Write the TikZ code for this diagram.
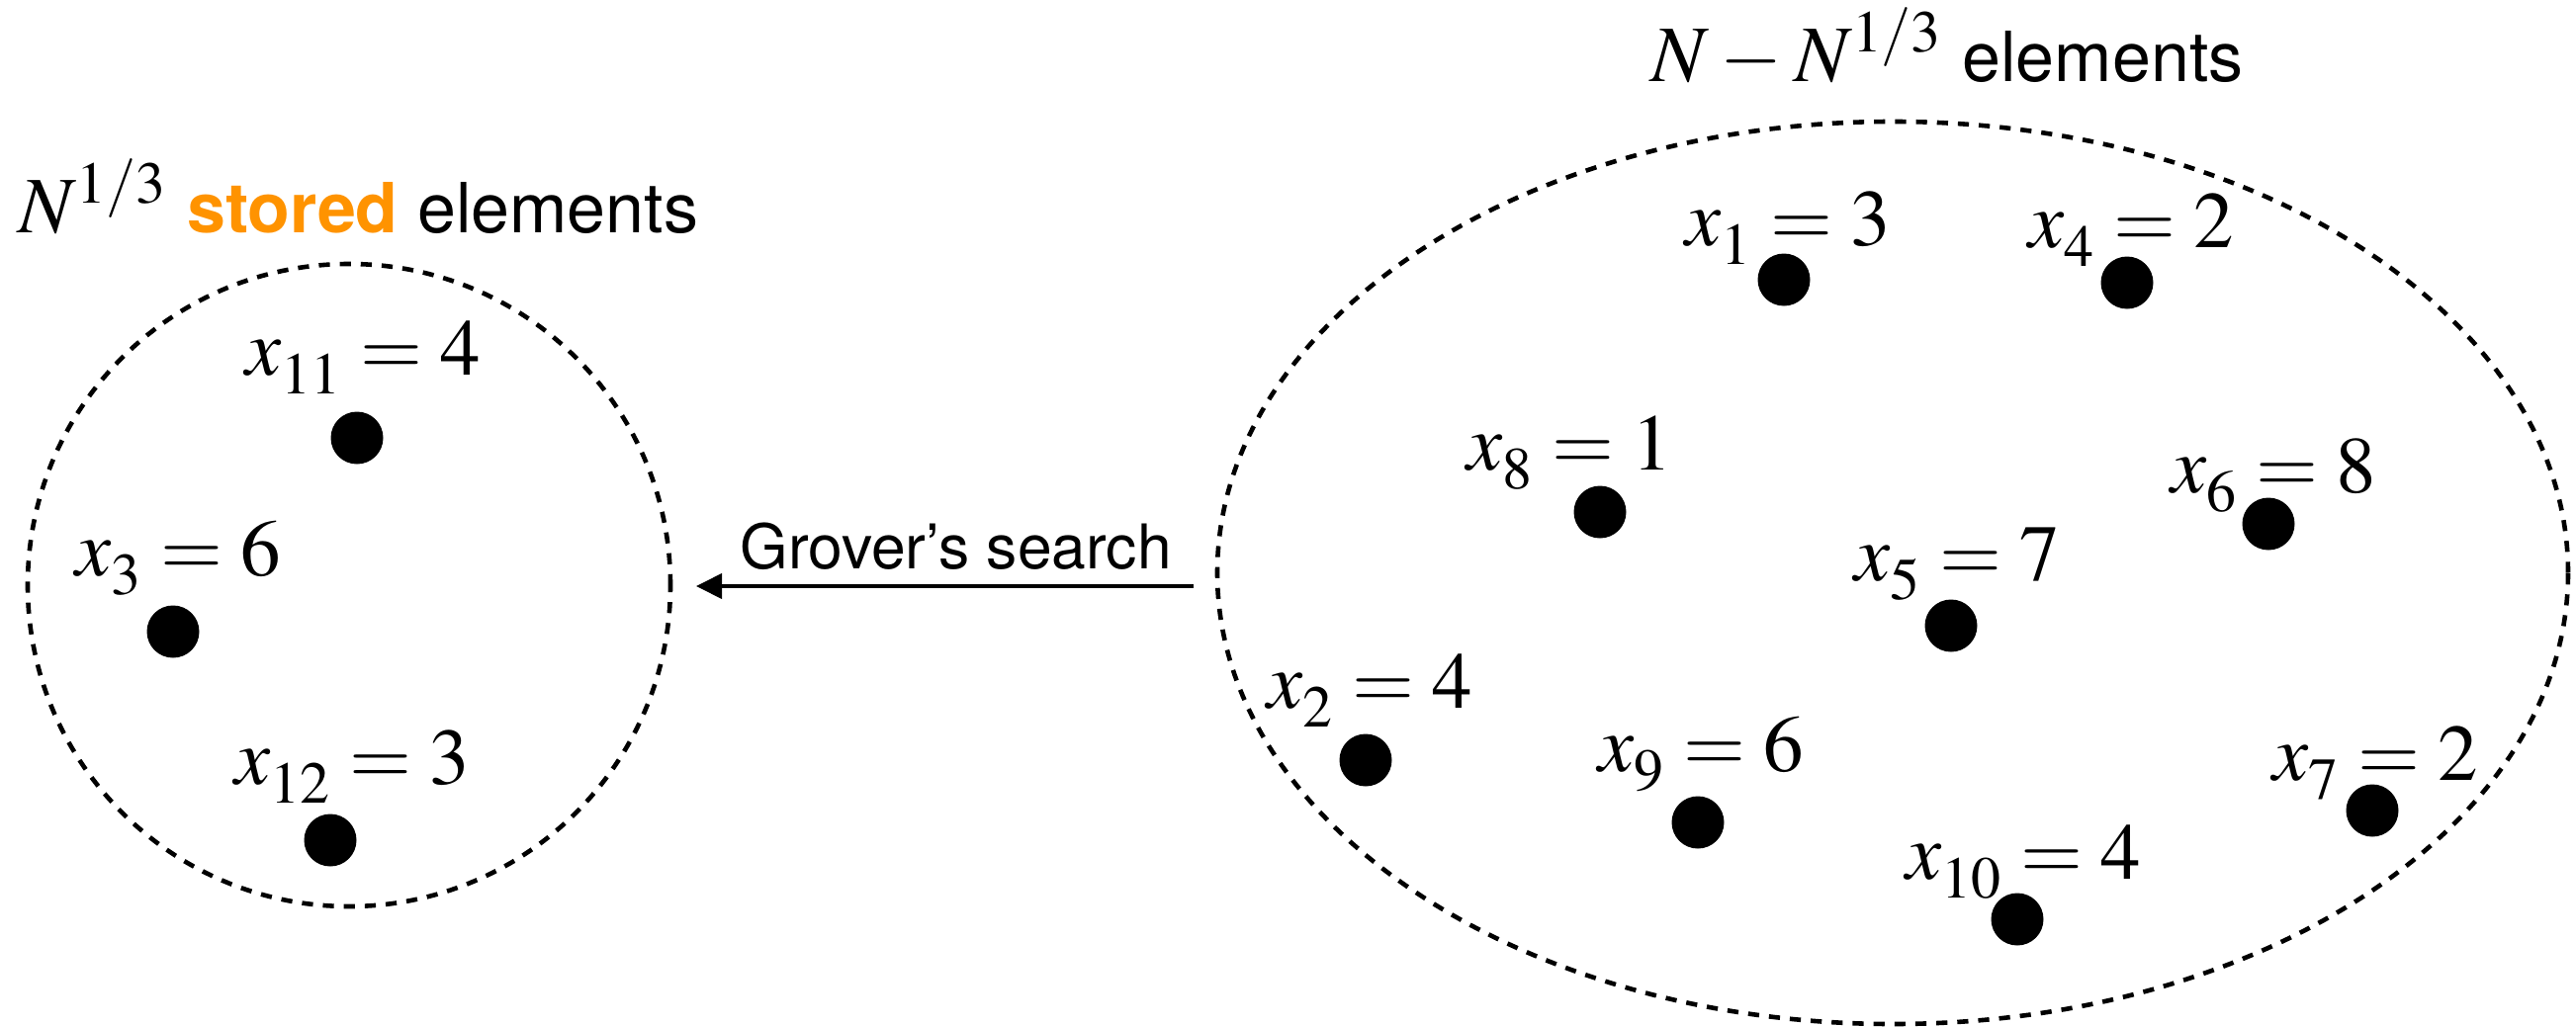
\documentclass[tikz,border=0pt]{standalone}
\usepackage{mathptmx}
\usepackage[no-math]{fontspec}
\setsansfont{TeX Gyre Heros}
\usetikzlibrary{arrows.meta,shapes.geometric}
\definecolor{aorange}{RGB}{255,147,0}
\newcommand\xsub[1]{x_{\raisebox{-0.09em}{$\scriptstyle #1$}}}
\begin{document}
\begin{tikzpicture}[x=0.25pt,y=-0.25pt,
  dot/.style={circle,fill=black,inner sep=0pt,minimum size=13.25pt},
  lbl/.style={anchor=base west,inner sep=0pt,font=\fontsize{20.25}{24}\selectfont},
  region/.style={draw,dash pattern=on 2.8pt off 2.5pt,line width=1.15pt,inner sep=0pt},
  hdr/.style={anchor=base west,inner sep=0pt,font=\fontsize{17.5}{22}\selectfont\sffamily},
  conn/.style={-{Triangle[length=6.5pt,width=6.25pt]},line width=1pt}]
\useasboundingbox (0,0) rectangle (2605,1039);
% regions
\node[region,circle,minimum size=162.5pt] (L) at (353,592) {};
\node[region,ellipse,minimum width=341.5pt,minimum height=228.25pt] (R) at (1914,579.5) {};
% headers
\node[hdr] (hl) at (18,235) {{\fontsize{20.25}{24}\selectfont$N^{1/3}$}\hspace{0.28em}\textcolor{aorange}{\bfseries stored} elements};
\node[hdr] (hr) at (1669,82) {{\fontsize{20.25}{24}\selectfont$N-N^{1/3}$}\hspace{0.28em}elements};
% arrow
\coordinate (gs) at (1207,593);
\coordinate (ge) at (704,593);
\draw[conn] (gs) -- (ge);
\node[anchor=base west,inner sep=0pt,font=\fontsize{15.6}{19}\selectfont\sffamily] (gl) at (748,575) {Grover’s search};
% stored elements
\node[dot] (d11) at (361,443) {};
\node[lbl] (l11) at (248,379) {$\xsub{11}=4$};
\node[dot] (d3) at (175,639) {};
\node[lbl] (l3) at (76,582) {$\xsub{3}=6$};
\node[dot] (d12) at (334,850) {};
\node[lbl] (l12) at (237,793) {$\xsub{12}=3$};
% other elements
\node[dot] (d1) at (1804,283) {};
\node[lbl] (l1) at (1704,248) {$\xsub{1}=3$};
\node[dot] (d4) at (2151,286) {};
\node[lbl] (l4) at (2051,250) {$\xsub{4}=2$};
\node[dot] (d8) at (1618,518) {};
\node[lbl] (l8) at (1483,475) {$\xsub{8}=1$};
\node[dot] (d6) at (2294,530) {};
\node[lbl] (l6) at (2195,498) {$\xsub{6}=8$};
\node[dot] (d5) at (1973,633) {};
\node[lbl] (l5) at (1875,587) {$\xsub{5}=7$};
\node[dot] (d2) at (1381,769) {};
\node[lbl] (l2) at (1281,716) {$\xsub{2}=4$};
\node[dot] (d9) at (1717,832) {};
\node[lbl] (l9) at (1616,780) {$\xsub{9}=6$};
\node[dot] (d7) at (2399,820) {};
\node[lbl] (l7) at (2298,789) {$\xsub{7}=2$};
\node[dot] (d10) at (2040,930) {};
\node[lbl] (l10) at (1927,889) {$\xsub{10}=4$};
\end{tikzpicture}
\end{document}
